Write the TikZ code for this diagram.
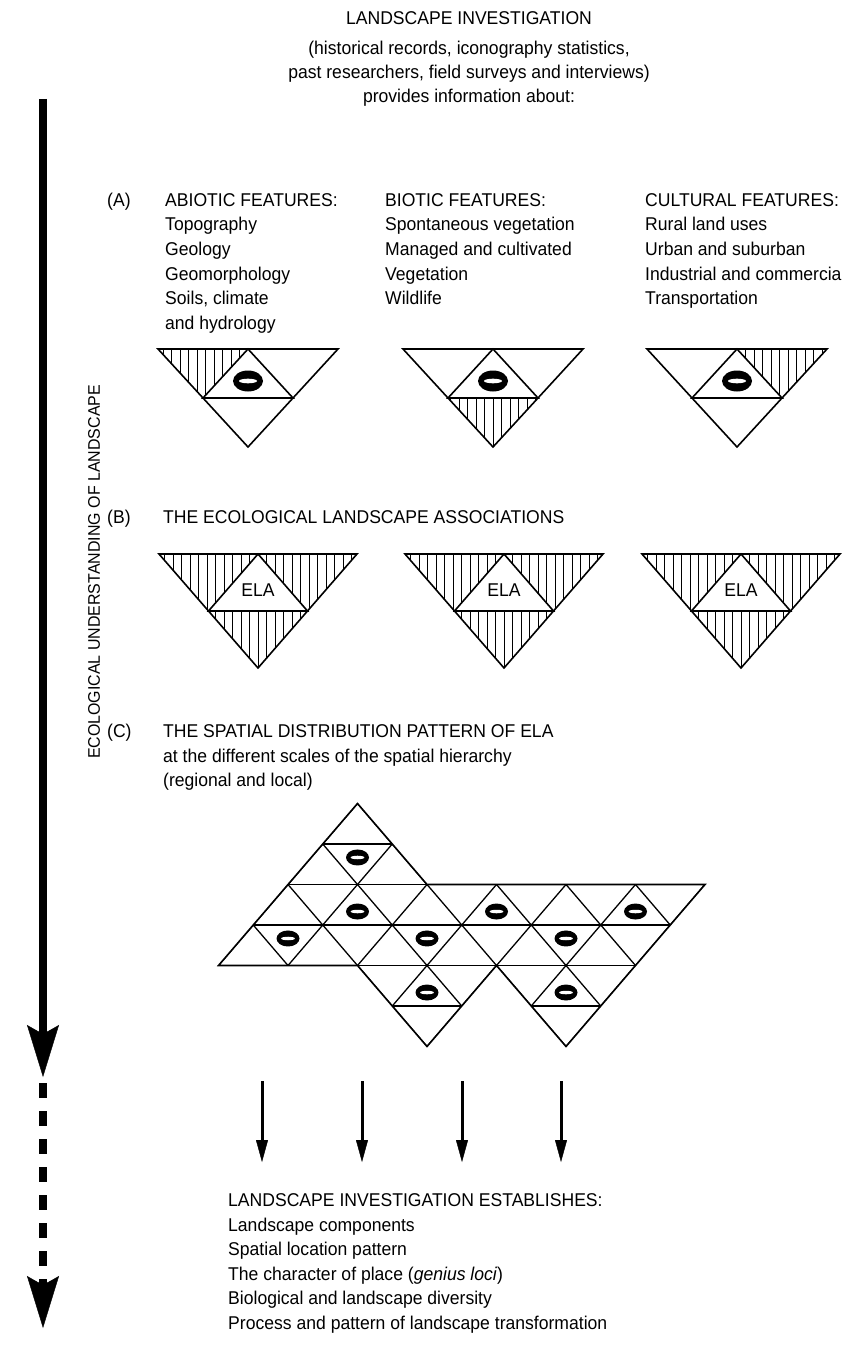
\documentclass[tikz,border=0pt]{standalone}
\usepackage{fontspec}
\setmainfont{Liberation Sans}[FakeStretch=0.95]
\usetikzlibrary{arrows.meta}

\tikzset{
  txt/.style={inner sep=0pt, font=\fontsize{18.5}{22}\selectfont},
  lbl/.style={txt, anchor=base west},
  ctr/.style={txt, anchor=base},
  edge/.style={line width=1.6pt, line join=miter},
  lattice/.style={line width=1.3pt},
  hatch/.style={line width=1pt},
  bigarrow/.style={line width=8pt, -{Stealth[length=52pt,width=32pt,inset=9pt,line width=0.4pt]}},
  smallarrow/.style={line width=3pt, -{Triangle[length=22pt,width=12pt,line width=0.4pt]}},
}

% vertical hatching inside a closed region: #1 = path, #2 = depth of the region
\newcommand\hatchclip[2]{%
  \begin{scope}
    \clip #1;
    \foreach \k in {-14,...,14} \draw[hatch] ({\k*8.5},-2) -- ({\k*8.5},{#2+2});
  \end{scope}}

% inverted triangle split into four by its mid-points
% #1 cx, #2 top, #3 half width, #4 height, #5/#6/#7 hatch top-left / top-right / bottom
\newcommand\splittri[7]{%
  \begin{scope}[shift={(#1,#2)}]
    \ifnum#5=1 \hatchclip{(-#3,0) -- (0,0) -- ({-#3/2},{#4/2}) -- cycle}{#4}\fi
    \ifnum#6=1 \hatchclip{(0,0) -- (#3,0) -- ({#3/2},{#4/2}) -- cycle}{#4}\fi
    \ifnum#7=1 \hatchclip{({-#3/2},{#4/2}) -- ({#3/2},{#4/2}) -- (0,#4) -- cycle}{#4}\fi
    \draw[edge] (-#3,0) -- (#3,0) -- (0,#4) -- cycle;
    \draw[edge] (0,0) -- ({-#3/2},{#4/2}) -- ({#3/2},{#4/2}) -- cycle;
  \end{scope}}

% black oval with a white slot
\newcommand\slotmark[3]{%
  \fill (#1) ellipse [x radius=#2pt, y radius=#3pt];
  \fill[white] (#1) ellipse [x radius={0.6*#2pt}, y radius={0.22*#3pt}];}

\begin{document}
\begin{tikzpicture}[x=1pt, y=-1pt]
\fill[white] (0,0) rectangle (855,1348);
\useasboundingbox (0,0) rectangle (855,1348);

% heading
\node[ctr] (title) at (469,25) {LANDSCAPE INVESTIGATION};
\node[ctr] (src1) at (469,55) {(historical records, iconography statistics,};
\node[ctr] (src2) at (469,79) {past researchers, field surveys and interviews)};
\node[ctr] (src3) at (469,103) {provides information about:};

% main axis
\coordinate (axtop) at (43,99);
\coordinate (axmid) at (43,1077);
\coordinate (axdash) at (43,1083);
\coordinate (axend) at (43,1328);
\draw[bigarrow] (axtop) -- (axmid);
\draw[bigarrow, dash pattern=on 14.5pt off 13.5pt] (axdash) -- (axend);
\node[inner sep=0pt, font=\fontsize{16.8}{20}\selectfont, rotate=90] (axislabel) at (94,572)
  {ECOLOGICAL UNDERSTANDING OF LANDSCAPE};

% (A) features
\node[lbl] (la) at (107,206.5) {(A)};
\foreach \t [count=\i from 0] in {ABIOTIC FEATURES:, Topography, Geology, Geomorphology, {Soils, climate}, and hydrology}
  \node[lbl] (abio\i) at (165,{206.5+24.5*\i}) {\t};
\foreach \t [count=\i from 0] in {BIOTIC FEATURES:, Spontaneous vegetation, Managed and cultivated, Vegetation, Wildlife}
  \node[lbl] (bio\i) at (385,{206.5+24.5*\i}) {\t};
\foreach \t [count=\i from 0] in {CULTURAL FEATURES:, Rural land uses, Urban and suburban, Industrial and commercia, Transportation}
  \node[lbl] (cult\i) at (645,{206.5+24.5*\i}) {\t};

\splittri{248}{349}{90}{98}{1}{0}{0}
\splittri{493}{349}{90}{98}{0}{0}{1}
\splittri{737}{349}{90}{98}{0}{1}{0}
\foreach \c in {248,493,737} { \slotmark{\c,381}{15}{10.5} }

% (B) associations
\node[lbl] (lb) at (107,523) {(B)};
\node[lbl] (bhead) at (163,523) {THE ECOLOGICAL LANDSCAPE ASSOCIATIONS};
\foreach \c [count=\i] in {258,504,741} {
  \splittri{\c}{554}{99}{114}{1}{1}{1}
  \node[ctr] (ela\i) at (\c,596) {ELA};
}

% (C) spatial pattern
\node[lbl] (lc) at (107,737.5) {(C)};
\node[lbl] (chead) at (163,737.5) {THE SPATIAL DISTRIBUTION PATTERN OF ELA};
\node[lbl] (cline1) at (163,762) {at the different scales of the spatial hierarchy};
\node[lbl] (cline2) at (163,786.5) {(regional and local)};

\begin{scope}[shift={(357.5,803.5)}, x=34.75pt, y=-40.5pt]
  \def\outline{(0,0) -- (2,2) -- (10,2) -- (8,4) -- (6,6) -- (4,4) -- (2,6) -- (0,4) -- (-4,4) -- cycle}
  \begin{scope}
    \clip \outline;
    \foreach \r in {1,...,5} \draw[lattice] (-6,\r) -- (12,\r);
    \foreach \m in {-10,-8,...,10} \draw[lattice] (\m,0) -- ({\m+7},7);
    \foreach \m in {0,2,...,20} \draw[lattice] (\m,0) -- ({\m-7},7);
  \end{scope}
  \draw[edge] \outline;
  \foreach \p in {{0,1.333}, {0,2.667}, {-2,3.333}, {2,3.333}, {2,4.667}, {4,2.667}, {8,2.667}, {6,3.333}, {6,4.667}}
    \slotmark{\p}{11.5}{8};
\end{scope}

% outcome
\foreach \x [count=\i] in {262,362,462,561} {
  \coordinate (ds\i) at (\x,1081);
  \coordinate (de\i) at (\x,1162);
  \draw[smallarrow] (ds\i) -- (de\i);
}
\foreach \t [count=\i from 0] in {LANDSCAPE INVESTIGATION ESTABLISHES:, Landscape components, Spatial location pattern, The character of place (\textit{genius loci}), Biological and landscape diversity, Process and pattern of landscape transformation}
  \node[lbl] (res\i) at (228,{1206.5+24.6*\i}) {\t};
\end{tikzpicture}
\end{document}
